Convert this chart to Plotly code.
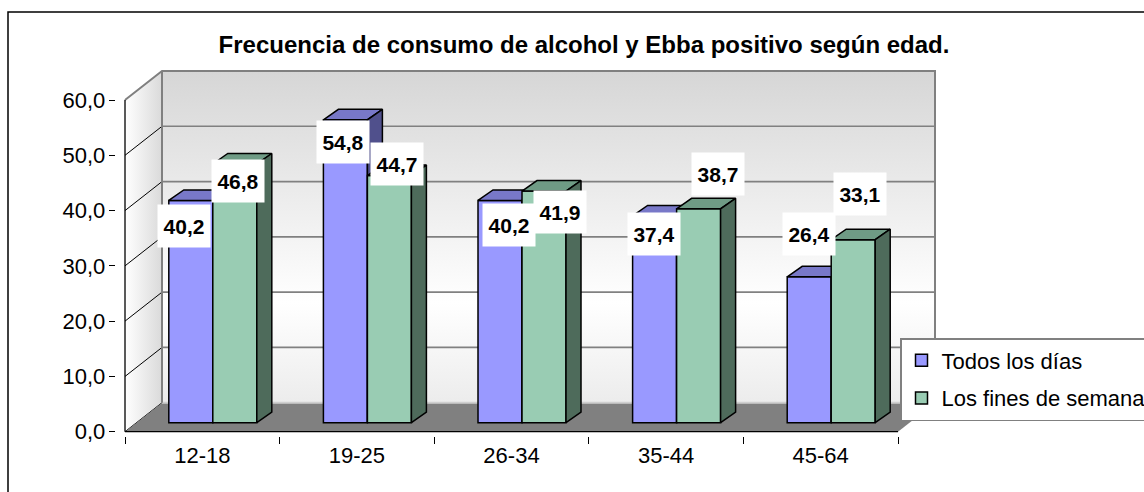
import plotly.graph_objects as go

# ---------------- data ----------------
categories = ["12-18", "19-25", "26-34", "35-44", "45-64"]
todos_los_dias = [40.2, 54.8, 40.2, 37.4, 26.4]
fines_de_semana = [46.8, 44.7, 41.9, 38.7, 33.1]
series_names = ["Todos los días", "Los fines de semana"]
y_ticks = [0, 10, 20, 30, 40, 50, 60]
title_text = "Frecuencia de consumo de alcohol y Ebba positivo según edad."

# ---------------- layout geometry (pixels) ----------------
W, H = 1144, 492
X0_PX = 125.0      # front plane, left edge of first category
CAT_PX = 154.6     # px per category
Y0_PX = 431.7      # front plane, value 0
VAL_PX = 5.528     # px per value unit

XR = [-0.56, 4.8]
YR = [-0.8, 66.0]
dom_x = [(X0_PX + (XR[0] + 0.5) * CAT_PX) / W, (X0_PX + (XR[1] + 0.5) * CAT_PX) / W]
dom_y = [1 - (Y0_PX - YR[0] * VAL_PX) / H, 1 - (Y0_PX - YR[1] * VAL_PX) / H]

# depth offsets converted to axis units
WDX, WDY = 37 / CAT_PX, 29 / VAL_PX          # back wall
BDX, BDY = 10.5 / CAT_PX, 9 / VAL_PX         # bar front plane
DDX, DDY = 15 / CAT_PX, 10.5 / VAL_PX        # bar depth
BAR_W = 44 / CAT_PX

# label placement offsets (px) relative to category centre / value line
LABEL_DX = [[-18.5, -14.4, -2.9, -12.3, -11.9], [35.5, 39.9, 48.3, 52.2, 39.1]]
LABEL_DY = [[-16.5, -13.7, -15.5, -9.2, 51.3], [-7.8, 20.9, -11.9, 43.6, 54.5]]

FONT = "Liberation Sans, Arial, sans-serif"
FRONT = ["#9999FF", "#99CCB3"]
TOP = ["#7878C8", "#6F9B85"]
SIDE = ["#50508C", "#4E6B5B"]

n = len(categories)
xl, xr = -0.5, n - 0.5
vtop = max(y_ticks)

fig = go.Figure()

def deco(xs, ys, **kw):
    d = dict(x=xs, y=ys, mode="lines", hoverinfo="skip", showlegend=False,
             xaxis="x", yaxis="y")
    d.update(kw)
    fig.add_trace(go.Scatter(**d))

# back wall
deco([xl + WDX, xr + WDX, xr + WDX, xl + WDX, xl + WDX],
     [WDY, WDY, vtop + WDY, vtop + WDY, WDY],
     fill="toself", line=dict(width=0, color="rgba(0,0,0,0)"),
     fillgradient=dict(type="vertical", start=WDY, stop=vtop + WDY,
                       colorscale=[[0, "#ececec"], [0.3, "#ffffff"], [1, "#d6d6d6"]]))
# side wall
deco([xl, xl + WDX, xl + WDX, xl, xl],
     [0, WDY, vtop + WDY, vtop, 0],
     fill="toself", line=dict(width=0, color="rgba(0,0,0,0)"),
     fillgradient=dict(type="horizontal", start=xl, stop=xl + WDX,
                       colorscale=[[0, "#ffffff"], [1, "#dadada"]]))
# gridlines on back wall
gx, gy = [], []
for v in y_ticks[1:-1]:
    gx += [xl + WDX, xr + WDX, None]
    gy += [v + WDY, v + WDY, None]
deco(gx, gy, line=dict(color="#808080", width=1.6))
# diagonal tick extensions on the side wall
dx_, dy_ = [], []
for v in y_ticks[:-1]:
    dx_ += [xl, xl + WDX, None]
    dy_ += [v, v + WDY, None]
deco(dx_, dy_, line=dict(color="#000000", width=1))
# floor
deco([xl, xr, xr + WDX, xl + WDX, xl], [0, 0, WDY, WDY, 0],
     fill="toself", fillcolor="#808080", line=dict(width=0, color="#808080"))
deco([xl + WDX, xr + WDX], [WDY, WDY], line=dict(color="#cfcfcf", width=2))
# wall borders
deco([xl, xl + WDX, xr + WDX, xr + WDX], [vtop, vtop + WDY, vtop + WDY, WDY],
     line=dict(color="#808080", width=2))
deco([xl + WDX, xl + WDX], [WDY, vtop + WDY], line=dict(color="#808080", width=2))
# front axes lines
deco([xl, xl, None, xl, xr], [0, vtop, None, 0, 0], line=dict(color="#000000", width=1.3))

# ---------------- bars ----------------
series = [todos_los_dias, fines_de_semana]
for s, vals in enumerate(series):
    ax = str(s + 2)
    xs = [i + BDX for i in range(n)]
    off = -BAR_W if s == 0 else 0.0
    fig.add_trace(go.Bar(
        x=xs, y=vals, base=BDY, width=BAR_W, offset=off, name=series_names[s],
        marker=dict(color=FRONT[s], line=dict(color="#000000", width=1.5)),
        xaxis="x" + ax, yaxis="y" + ax, legendgroup=str(s), hoverinfo="skip"))
    tx, ty, sx, sy = [], [], [], []
    for i, v in enumerate(vals):
        a = xs[i] + off
        b = a + BAR_W
        t = BDY + v
        tx += [a, b, b + DDX, a + DDX, a, None]
        ty += [t, t, t + DDY, t + DDY, t, None]
        sx += [b, b, b + DDX, b + DDX, b, None]
        sy += [BDY, t, t + DDY, BDY + DDY, BDY, None]
    for px, py, col in ((tx, ty, TOP[s]), (sx, sy, SIDE[s])):
        fig.add_trace(go.Scatter(x=px, y=py, mode="lines", fill="toself", fillcolor=col,
                                 line=dict(color="#000000", width=1.5),
                                 hoverinfo="skip", showlegend=False,
                                 xaxis="x" + ax, yaxis="y" + ax))

# ---------------- data labels ----------------
for s, vals in enumerate(series):
    for i, v in enumerate(vals):
        fig.add_annotation(
            x=i + LABEL_DX[s][i] / CAT_PX, y=v + LABEL_DY[s][i] / VAL_PX,
            xref="x", yref="y", text=f"{v:.1f}".replace(".", ","), showarrow=False,
            bgcolor="#ffffff", width=52, height=42, borderpad=0,
            xanchor="center", yanchor="middle",
            font=dict(family=FONT, size=21, color="#000000", weight="bold"))

# outer chart border
fig.add_shape(type="rect", xref="paper", yref="paper",
              x0=8 / W, x1=1.05, y0=-0.05, y1=1 - 12 / H,
              line=dict(color="#000000", width=1.5), layer="below")

axis_common = dict(range=XR, domain=dom_x, showgrid=False, zeroline=False, showline=False)
yaxis_common = dict(range=YR, domain=dom_y, showgrid=False, zeroline=False, showline=False)

fig.update_layout(
    width=W, height=H,
    margin=dict(l=0, r=0, t=0, b=0, autoexpand=False),
    paper_bgcolor="#ffffff", plot_bgcolor="rgba(0,0,0,0)",
    separators=",.",
    barmode="overlay",
    font=dict(family=FONT, color="#000000"),
    title=dict(text=title_text, x=584 / W, xanchor="center", y=1 - 45 / H, yanchor="middle",
               font=dict(family=FONT, size=24, color="#000000", weight="bold")),
    xaxis=dict(**axis_common, tickmode="array", tickvals=list(range(n)), ticktext=categories,
               ticks="", ticklabelstandoff=4,
               tickfont=dict(family=FONT, size=22, color="#000000"),
               minor=dict(tickmode="array", tickvals=[i - 0.5 for i in range(n + 1)],
                          ticks="outside", ticklen=7, tickcolor="#000000", tickwidth=1.2)),
    yaxis=dict(**yaxis_common, tickmode="array", tickvals=y_ticks, tickformat=".1f",
               ticks="outside", ticklen=6, tickcolor="#000000", tickwidth=1.2,
               ticklabelstandoff=-1,
               tickfont=dict(family=FONT, size=22, color="#000000")),
    xaxis2=dict(**axis_common, overlaying="x", visible=False),
    yaxis2=dict(**yaxis_common, overlaying="y", visible=False),
    xaxis3=dict(**axis_common, overlaying="x", visible=False),
    yaxis3=dict(**yaxis_common, overlaying="y", visible=False),
    legend=dict(x=900 / W, y=1 - 338 / H, xanchor="left", yanchor="top",
                bgcolor="#ffffff", bordercolor="#808080", borderwidth=1.5,
                font=dict(family=FONT, size=22, color="#000000"),
                tracegroupgap=6, traceorder="grouped", itemwidth=30),
    showlegend=True,
)

fig.write_html("out.html", config={"displayModeBar": False},
               post_script="document.body.style.margin='0px';")
